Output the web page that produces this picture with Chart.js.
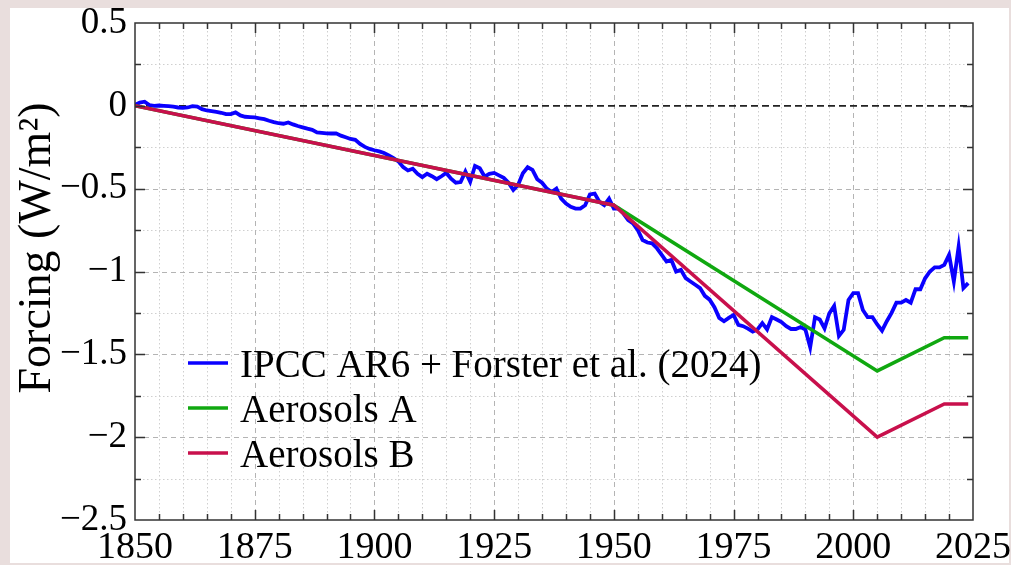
<!DOCTYPE html>
<html><head><meta charset="utf-8">
<script src="https://cdn.jsdelivr.net/npm/chart.js@4.4.1/dist/chart.umd.min.js"></script>
<style>
html,body{margin:0;padding:0;background:#e9dedd;width:1011px;height:565px;overflow:hidden}
#panel{position:absolute;left:10px;top:8px;width:999px;height:555px;background:#fff}
#wrap{position:absolute;left:0;top:0;width:1011px;height:565px}
</style></head><body>
<div id="panel"></div>
<div id="wrap"><canvas id="c" width="1011" height="565"></canvas></div>
<script>
// ---- DATA ----
const years = [1850,1851,1852,1853,1854,1855,1856,1857,1858,1859,
1860,1861,1862,1863,1864,1865,1866,1867,1868,1869,
1870,1871,1872,1873,1874,1875,1876,1877,1878,1879,
1880,1881,1882,1883,1884,1885,1886,1887,1888,1889,
1890,1891,1892,1893,1894,1895,1896,1897,1898,1899,
1900,1901,1902,1903,1904,1905,1906,1907,1908,1909,
1910,1911,1912,1913,1914,1915,1916,1917,1918,1919,
1920,1921,1922,1923,1924,1925,1926,1927,1928,1929,
1930,1931,1932,1933,1934,1935,1936,1937,1938,1939,
1940,1941,1942,1943,1944,1945,1946,1947,1948,1949,
1950,1951,1952,1953,1954,1955,1956,1957,1958,1959,
1960,1961,1962,1963,1964,1965,1966,1967,1968,1969,
1970,1971,1972,1973,1974,1975,1976,1977,1978,1979,
1980,1981,1982,1983,1984,1985,1986,1987,1988,1989,
1990,1991,1992,1993,1994,1995,1996,1997,1998,1999,
2000,2001,2002,2003,2004,2005,2006,2007,2008,2009,
2010,2011,2012,2013,2014,2015,2016,2017,2018,2019,
2020,2021,2022,2023,2024];
const ipccForster = [0.005,0.02,0.025,0.005,0.0,0.002,0.0,-0.002,-0.005,-0.01,
-0.012,-0.01,-0.002,-0.005,-0.02,-0.028,-0.032,-0.036,-0.042,-0.05,
-0.05,-0.04,-0.058,-0.066,-0.068,-0.07,-0.075,-0.08,-0.09,-0.098,
-0.105,-0.108,-0.1,-0.112,-0.122,-0.13,-0.138,-0.145,-0.16,-0.163,
-0.166,-0.167,-0.166,-0.18,-0.19,-0.2,-0.205,-0.23,-0.248,-0.26,
-0.268,-0.275,-0.285,-0.3,-0.315,-0.335,-0.37,-0.39,-0.38,-0.41,
-0.43,-0.41,-0.425,-0.443,-0.425,-0.405,-0.44,-0.464,-0.46,-0.397,
-0.458,-0.363,-0.377,-0.427,-0.41,-0.405,-0.42,-0.435,-0.464,-0.508,
-0.478,-0.407,-0.371,-0.387,-0.443,-0.464,-0.5,-0.52,-0.5,-0.56,
-0.59,-0.61,-0.62,-0.62,-0.6,-0.535,-0.53,-0.58,-0.6,-0.56,
-0.62,-0.62,-0.65,-0.69,-0.71,-0.75,-0.81,-0.825,-0.83,-0.86,
-0.9,-0.94,-0.93,-1.0,-0.99,-1.04,-1.06,-1.08,-1.1,-1.147,
-1.17,-1.215,-1.28,-1.3,-1.28,-1.262,-1.322,-1.33,-1.345,-1.363,
-1.35,-1.312,-1.35,-1.275,-1.29,-1.305,-1.33,-1.347,-1.347,-1.335,
-1.35,-1.457,-1.276,-1.29,-1.343,-1.252,-1.208,-1.389,-1.352,-1.172,
-1.131,-1.131,-1.232,-1.276,-1.276,-1.32,-1.357,-1.3,-1.25,-1.188,
-1.188,-1.172,-1.188,-1.107,-1.107,-1.041,-1.0,-0.975,-0.975,-0.96,
-0.9,-1.06,-0.85,-1.1,-1.07];
const aerosolYears = [1850,1950,2005,2019,2024];
const aerosolsA = [0,-0.6,-1.6,-1.4,-1.4];
const aerosolsB = [0,-0.6,-2.0,-1.8,-1.8];
const xTickLabels = [1850,1875,1900,1925,1950,1975,2000,2025];
const yTickLabels = [0.5,0,-0.5,-1,-1.5,-2,-2.5];
const seriesLabels = ['IPCC AR6 + Forster et al. (2024)','Aerosols A','Aerosols B'];
const seriesColors = ['#0a00ff','#10a810','#c8104c'];
const yTitle = 'Forcing (W/m\u00B2)';

// ---- helpers ----
const SERIF = "'Liberation Serif','Times New Roman',serif";
function fmtNum(v){ return v < 0 ? '\u2212' + String(Math.abs(v)) : String(v); }

const framePlugin = {
  id: 'frameGrid',
  beforeDatasetsDraw(chart){
    const {ctx, chartArea:a, scales:{x, y}} = chart;
    ctx.save();
    ctx.lineWidth = 1;
    ctx.strokeStyle = '#cfcfcf'; ctx.setLineDash([1.5,2.5]);
    ctx.beginPath();
    for (let v = 1855; v < 2025; v += 5) {
      if (xTickLabels.includes(v)) continue;
      const px = Math.round(x.getPixelForValue(v)) + 0.5;
      ctx.moveTo(px, a.top); ctx.lineTo(px, a.bottom);
    }
    for (let v = -2.25; v < 0.5; v += 0.5) {
      const py = Math.round(y.getPixelForValue(v)) + 0.5;
      ctx.moveTo(a.left, py); ctx.lineTo(a.right, py);
    }
    ctx.stroke();
    ctx.strokeStyle = '#b4b4b4'; ctx.setLineDash([5,4]);
    ctx.beginPath();
    xTickLabels.forEach(v => {
      if (v === 1850 || v === 2025) return;
      const px = Math.round(x.getPixelForValue(v)) + 0.5;
      ctx.moveTo(px, a.top); ctx.lineTo(px, a.bottom);
    });
    yTickLabels.forEach(v => {
      if (v === 0.5 || v === -2.5 || v === 0) return;
      const py = Math.round(y.getPixelForValue(v)) + 0.5;
      ctx.moveTo(a.left, py); ctx.lineTo(a.right, py);
    });
    ctx.stroke();
    ctx.strokeStyle = '#222'; ctx.lineWidth = 1.6; ctx.setLineDash([7,4]);
    const pz = y.getPixelForValue(0);
    ctx.beginPath(); ctx.moveTo(a.left, pz); ctx.lineTo(a.right, pz); ctx.stroke();
    ctx.restore();
  },
  afterDatasetsDraw(chart){
    const {ctx, chartArea:a, scales:{x, y}} = chart;
    ctx.save();
    ctx.strokeStyle = '#333'; ctx.lineWidth = 1.5; ctx.setLineDash([]);
    ctx.strokeRect(a.left, a.top, a.right - a.left, a.bottom - a.top);
    ctx.beginPath();
    for (let v = 1855; v < 2025; v += 5) {
      const len = xTickLabels.includes(v) ? 10 : 6;
      const px = Math.round(x.getPixelForValue(v)) + 0.5;
      ctx.moveTo(px, a.bottom); ctx.lineTo(px, a.bottom - len);
      ctx.moveTo(px, a.top); ctx.lineTo(px, a.top + len);
    }
    for (let v = -2.25; v < 0.5; v += 0.25) {
      const major = Math.abs(v * 2 - Math.round(v * 2)) < 1e-6;
      const len = major ? 10 : 6;
      const py = Math.round(y.getPixelForValue(v)) + 0.5;
      ctx.moveTo(a.left, py); ctx.lineTo(a.left + len, py);
      ctx.moveTo(a.right, py); ctx.lineTo(a.right - len, py);
    }
    ctx.stroke();
    // legend
    const rows = [{line:363, base:377},{line:408, base:422},{line:453, base:467}];
    ctx.font = "39px " + SERIF;
    ctx.textBaseline = 'alphabetic';
    ctx.fillStyle = '#000';
    rows.forEach((r, i) => {
      ctx.strokeStyle = seriesColors[i]; ctx.lineWidth = 3.5;
      ctx.beginPath(); ctx.moveTo(188, r.line); ctx.lineTo(228, r.line); ctx.stroke();
      ctx.fillText(seriesLabels[i], 240, r.base);
    });
    // y axis title
    ctx.translate(50, 248);
    ctx.rotate(-Math.PI / 2);
    ctx.font = "46px " + SERIF;
    ctx.textAlign = 'center';
    ctx.fillText(yTitle, 0, 0);
    ctx.restore();
  }
};

new Chart(document.getElementById('c').getContext('2d'), {
  type: 'line',
  data: {
    datasets: [
      { label: seriesLabels[0], data: years.map((yr, i) => ({x: yr, y: ipccForster[i]})),
        borderColor: seriesColors[0], borderWidth: 3.8, pointRadius: 0, order: 3, tension: 0 },
      { label: seriesLabels[1], data: aerosolYears.map((yr, i) => ({x: yr, y: aerosolsA[i]})),
        borderColor: seriesColors[1], borderWidth: 3.5, pointRadius: 0, order: 2, tension: 0 },
      { label: seriesLabels[2], data: aerosolYears.map((yr, i) => ({x: yr, y: aerosolsB[i]})),
        borderColor: seriesColors[2], borderWidth: 3.5, pointRadius: 0, order: 1, tension: 0 }
    ]
  },
  options: {
    responsive: false, animation: false, devicePixelRatio: 1,
    layout: { padding: { left: 0, top: 23, right: 38, bottom: 0 } },
    plugins: { legend: { display: false }, tooltip: { enabled: false } },
    scales: {
      x: {
        type: 'linear', min: 1850, max: 2025,
        afterBuildTicks: s => { s.ticks = xTickLabels.map(v => ({value: v})); },
        grid: { display: false, drawTicks: false }, border: { display: false },
        ticks: { font: { family: SERIF, size: 38, lineHeight: 1.0 }, color: '#000', padding: 9, maxRotation: 0, autoSkip: false,
                 callback: v => String(v) },
        afterFit: s => { s.height = 45; s.paddingLeft = 0; s.paddingRight = 0; }
      },
      y: {
        type: 'linear', min: -2.5, max: 0.5,
        afterBuildTicks: s => { s.ticks = yTickLabels.map(v => ({value: v})); },
        grid: { display: false, drawTicks: false }, border: { display: false },
        ticks: { font: { family: SERIF, size: 37, lineHeight: 1.0 }, color: '#000', padding: 8, autoSkip: false,
                 callback: v => fmtNum(v) },
        title: { display: false },
        afterFit: s => { s.width = 135; s.paddingTop = 0; s.paddingBottom = 0; }
      }
    }
  },
  plugins: [framePlugin]
});
</script>
</body></html>
